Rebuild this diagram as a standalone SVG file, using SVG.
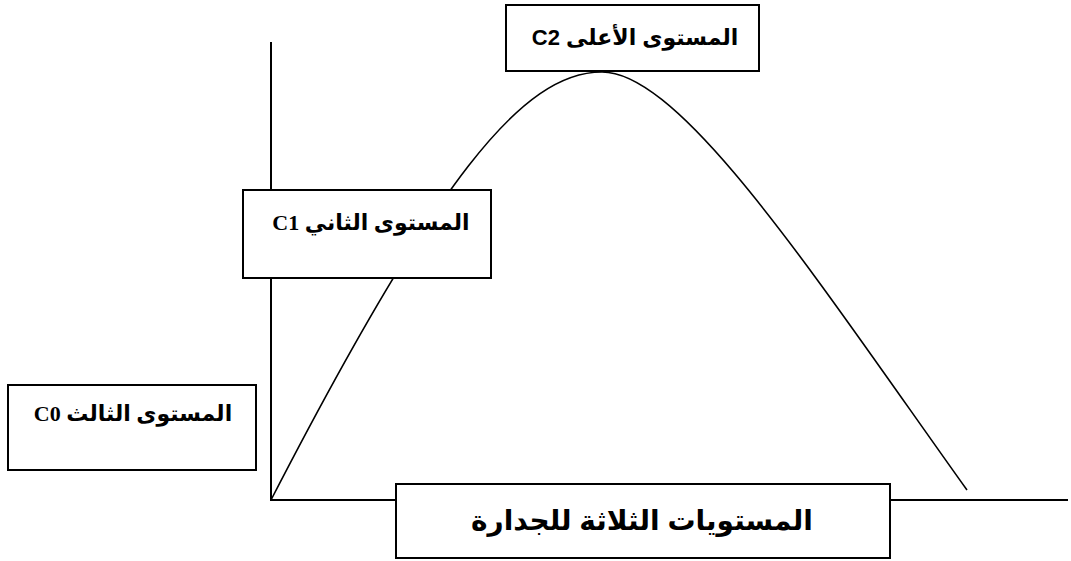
<svg xmlns="http://www.w3.org/2000/svg" width="1071" height="561" viewBox="0 0 1071 561">
<style>
.box{fill:#fff;stroke:#000;stroke-width:2}
.ax{fill:none;stroke:#000;stroke-width:2}
.cv{fill:none;stroke:#000;stroke-width:1.6}
.ts{font-family:"Liberation Sans","DejaVu Sans",sans-serif;font-weight:bold;fill:#000}
.tr{font-family:"Liberation Serif","DejaVu Serif","DejaVu Sans",serif;font-weight:bold;fill:#000}
</style>
<rect width="1071" height="561" fill="#fff"/>
<g id="connectors">
<path class="ax" d="M271,42 V500 H1068"/>
<path class="cv" d="M271,500 C436,180 522,72 602,72 C682,72 817,280 967,490"/>
</g>
<g id="c2">
<rect class="box" x="506" y="5" width="253" height="66"/>
<text class="ts" x="635" y="45" font-size="22" text-anchor="middle" direction="rtl">المستوى الأعلى C2</text>
</g>
<g id="c1">
<rect class="box" x="243" y="190" width="248" height="88"/>
<text class="tr" x="371" y="230" font-size="22" text-anchor="middle" direction="rtl">المستوى الثاني C1</text>
</g>
<g id="c0">
<rect class="box" x="8" y="385" width="248" height="85"/>
<text class="tr" x="133" y="421" font-size="22" text-anchor="middle" direction="rtl">المستوى الثالث C0</text>
</g>
<g id="title">
<rect class="box" x="396" y="484" width="494" height="74"/>
<text class="ts" x="642" y="530" font-size="28" text-anchor="middle" direction="rtl">المستويات الثلاثة للجدارة</text>
</g>
</svg>
